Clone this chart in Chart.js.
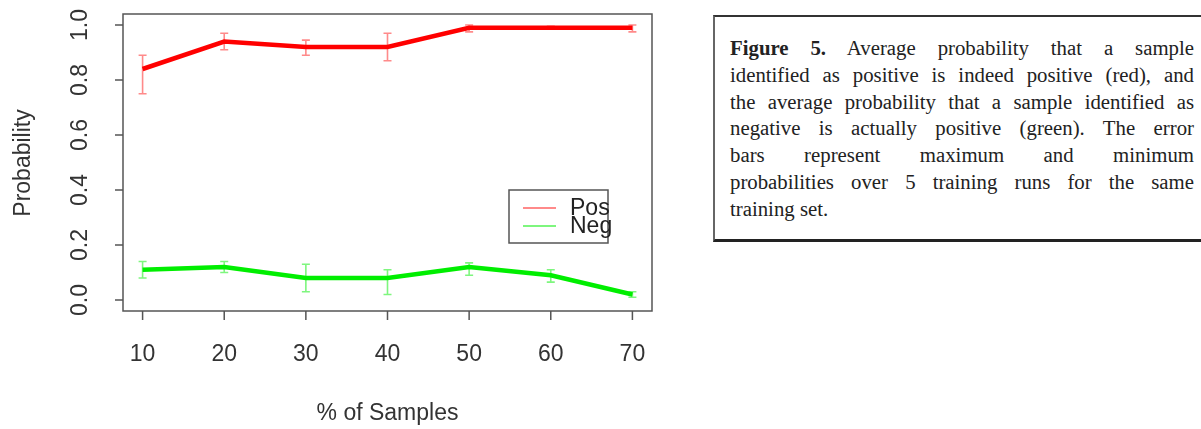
<!DOCTYPE html>
<html>
<head>
<meta charset="utf-8">
<script src="https://cdn.jsdelivr.net/npm/chart.js@4"></script>
<style>
  html, body { margin: 0; padding: 0; background: #fff; overflow: hidden; }
  #wrap { position: absolute; left: 0; top: 0; width: 690px; height: 429px; }
  #caption {
    position: absolute; left: 713px; top: 15px; width: 520px; height: 227px;
    border-top: 2px solid #333; border-left: 2px solid #666; border-bottom: 3px solid #222;
    box-sizing: border-box; padding: 18px 0 0 15px;
    font-family: "Liberation Serif", "Times New Roman", serif; font-size: 20.8px; line-height: 26.8px; color: #222;
  }
  #caption div { width: 464px; white-space: nowrap; text-align: justify; text-align-last: justify; }
  #caption div.last { text-align-last: left; }
</style>
</head>
<body>
<div id="wrap"><canvas id="probChart" width="690" height="429"></canvas></div>
<div id="caption">
  <div><b>Figure 5.</b> Average probability that a sample</div>
  <div>identified as positive is indeed positive (red), and</div>
  <div>the average probability that a sample identified as</div>
  <div>negative is actually positive (green). The error</div>
  <div>bars represent maximum and minimum</div>
  <div>probabilities over 5 training runs for the same</div>
  <div class="last">training set.</div>
</div>
<script>
// % of samples used for training
const samples = [10, 20, 30, 40, 50, 60, 70];

// positive -> positive (red)
const posMean = [0.84, 0.94, 0.92, 0.92, 0.99, 0.99, 0.99];
const posMax  = [0.89, 0.97, 0.945, 0.97, 1.00, 0.995, 1.00];
const posMin  = [0.75, 0.91, 0.89, 0.87, 0.975, 0.985, 0.975];

// negative -> positive (green)
const negMean = [0.11, 0.12, 0.08, 0.08, 0.12, 0.09, 0.02];
const negMax  = [0.14, 0.14, 0.13, 0.11, 0.135, 0.11, 0.03];
const negMin  = [0.08, 0.10, 0.03, 0.02, 0.09, 0.065, 0.01];

const yTicks = [0, 0.2, 0.4, 0.6, 0.8, 1.0];
const xTicks = [10, 20, 30, 40, 50, 60, 70];

const FONT = "Liberation Sans, Arial, sans-serif";

// R style frame, axes, legend and error bars
const rPlot = {
  id: "rPlot",
  beforeDatasetsDraw(chart) {
    const c = chart.ctx;
    const xs = chart.scales.x, ys = chart.scales.y;

    // error bars
    chart.data.datasets.forEach(ds => {
      c.save();
      c.strokeStyle = ds.errColor;
      c.lineWidth = 1.6;
      ds.data.forEach((p, i) => {
        const x = xs.getPixelForValue(p.x);
        const y1 = ys.getPixelForValue(ds.hi[i]), y2 = ys.getPixelForValue(ds.lo[i]);
        c.beginPath();
        c.moveTo(x, y1); c.lineTo(x, y2);
        c.moveTo(x - 4, y1); c.lineTo(x + 4, y1);
        c.moveTo(x - 4, y2); c.lineTo(x + 4, y2);
        c.stroke();
      });
      c.restore();
    });
  },
  afterDatasetsDraw(chart) {
    const c = chart.ctx, a = chart.chartArea;
    const xs = chart.scales.x, ys = chart.scales.y;
    c.save();
    c.strokeStyle = "#555";
    c.lineWidth = 1.5;
    c.strokeRect(a.left, a.top, a.right - a.left, a.bottom - a.top);

    // y axis
    c.fillStyle = "#333";
    c.font = "23px " + FONT;
    c.beginPath();
    yTicks.forEach(v => {
      const y = ys.getPixelForValue(v);
      c.moveTo(a.left - 8, y); c.lineTo(a.left, y);
    });
    c.stroke();
    yTicks.forEach(v => {
      const y = ys.getPixelForValue(v);
      c.save();
      c.translate(81, y);
      c.rotate(-Math.PI / 2);
      c.textAlign = "center"; c.textBaseline = "middle";
      c.fillText(v.toFixed(1), 0, 0);
      c.restore();
    });

    // x axis
    c.beginPath();
    xTicks.forEach(v => {
      const x = xs.getPixelForValue(v);
      c.moveTo(x, a.bottom); c.lineTo(x, a.bottom + 9);
    });
    c.stroke();
    c.textAlign = "center"; c.textBaseline = "middle";
    xTicks.forEach(v => c.fillText(String(v), xs.getPixelForValue(v), 355));

    // titles
    c.fillText("% of Samples", (a.left + a.right) / 2, 414);
    c.save();
    c.translate(24, 163);
    c.rotate(-Math.PI / 2);
    c.fillText("Probability", 0, 0);
    c.restore();

    // legend
    c.lineWidth = 1.5;
    c.strokeStyle = "#555";
    c.strokeRect(509, 190, 99, 53);
    c.font = "23px " + FONT;
    c.textAlign = "left";
    chart.data.datasets.forEach((ds, i) => {
      const y = 208 + i * 18;
      c.strokeStyle = ds.errColor;
      c.lineWidth = 2;
      c.beginPath(); c.moveTo(523, y); c.lineTo(556, y); c.stroke();
      c.fillStyle = "#222";
      c.fillText(ds.label, 570, y + 1);
    });
    c.restore();
  }
};

const toPts = ys => samples.map((s, i) => ({ x: s, y: ys[i] }));

new Chart(document.getElementById("probChart").getContext("2d"), {
  type: "line",
  data: {
    datasets: [{
      label: "Pos",
      data: toPts(posMean), hi: posMax, lo: posMin,
      borderColor: "#ff0000", errColor: "rgba(255,60,60,0.6)",
      borderWidth: 4.5, pointRadius: 0, tension: 0
    }, {
      label: "Neg",
      data: toPts(negMean), hi: negMax, lo: negMin,
      borderColor: "#00ee00", errColor: "rgba(40,240,40,0.6)",
      borderWidth: 4.5, pointRadius: 0, tension: 0
    }]
  },
  options: {
    responsive: false,
    animation: false,
    layout: { padding: { left: 123, right: 38, top: 14, bottom: 118 } },
    plugins: { legend: { display: false }, tooltip: { enabled: false } },
    scales: {
      x: { type: "linear", min: 7.6, max: 72.4, display: false },
      y: { min: -0.04, max: 1.04, display: false }
    }
  },
  plugins: [rPlot]
});
</script>
</body>
</html>
